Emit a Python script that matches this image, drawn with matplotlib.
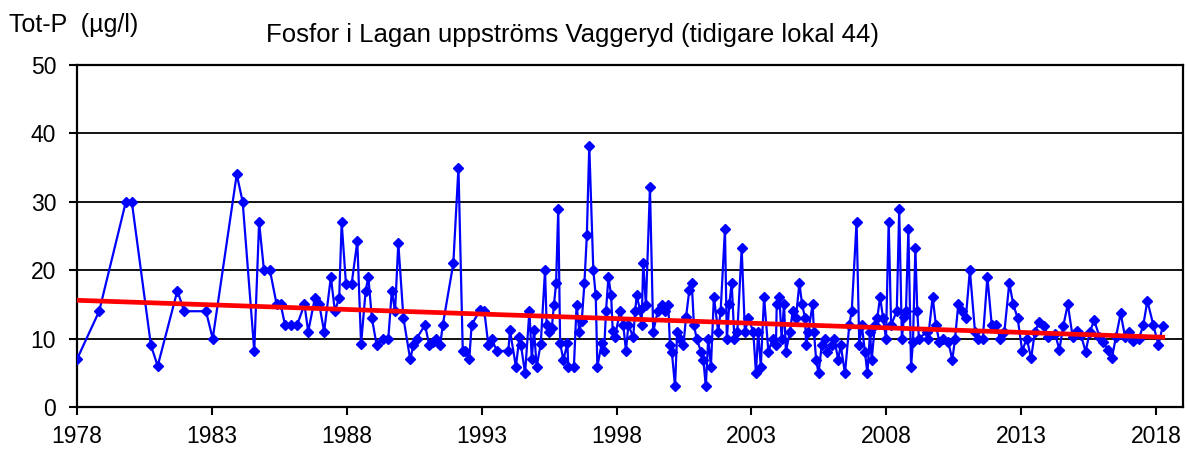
import matplotlib.pyplot as plt

plt.rcParams['font.family'] = ['Liberation Sans', 'DejaVu Sans']

# provtagningar (decimalår) och Tot-P i µg/l
years = [
    1978.00, 1978.82, 1979.81, 1980.03, 1980.74, 1980.99, 1981.72, 1981.97, 1982.78, 1983.03,
    1983.92, 1984.14, 1984.57, 1984.75, 1984.93, 1985.15, 1985.40, 1985.55, 1985.71, 1985.92,
    1986.16, 1986.43, 1986.57, 1986.82, 1986.98, 1987.16, 1987.41, 1987.56, 1987.72, 1987.81,
    1987.97, 1988.18, 1988.39, 1988.53, 1988.70, 1988.80, 1988.93, 1989.11, 1989.33, 1989.54,
    1989.67, 1989.79, 1989.91, 1990.10, 1990.35, 1990.47, 1990.59, 1990.90, 1991.06, 1991.21,
    1991.31, 1991.46, 1991.56, 1991.95, 1992.14, 1992.30, 1992.40, 1992.54, 1992.63, 1992.94,
    1993.10, 1993.25, 1993.37, 1993.56, 1993.99, 1994.05, 1994.27, 1994.40, 1994.46, 1994.61,
    1994.77, 1994.86, 1994.94, 1995.04, 1995.19, 1995.35, 1995.41, 1995.51, 1995.60, 1995.68,
    1995.76, 1995.84, 1995.91, 1996.03, 1996.18, 1996.21, 1996.42, 1996.52, 1996.62, 1996.71,
    1996.81, 1996.90, 1996.99, 1997.14, 1997.23, 1997.29, 1997.45, 1997.54, 1997.61, 1997.70,
    1997.80, 1997.86, 1997.94, 1998.13, 1998.25, 1998.35, 1998.44, 1998.62, 1998.69, 1998.75,
    1998.87, 1998.93, 1998.99, 1999.09, 1999.24, 1999.36, 1999.53, 1999.68, 1999.80, 1999.92,
    1999.98, 2000.05, 2000.17, 2000.25, 2000.35, 2000.48, 2000.58, 2000.70, 2000.79, 2000.87,
    2000.97, 2001.13, 2001.22, 2001.31, 2001.40, 2001.50, 2001.61, 2001.77, 2001.86, 2002.02,
    2002.09, 2002.18, 2002.27, 2002.37, 2002.48, 2002.64, 2002.76, 2002.89, 2003.07, 2003.17,
    2003.25, 2003.35, 2003.47, 2003.63, 2003.79, 2003.91, 2003.94, 2004.04, 2004.12, 2004.21,
    2004.28, 2004.43, 2004.53, 2004.65, 2004.78, 2004.88, 2004.99, 2005.03, 2005.11, 2005.27,
    2005.32, 2005.40, 2005.49, 2005.61, 2005.73, 2005.81, 2005.98, 2006.07, 2006.22, 2006.31,
    2006.47, 2006.63, 2006.72, 2006.90, 2007.00, 2007.09, 2007.21, 2007.30, 2007.40, 2007.46,
    2007.58, 2007.67, 2007.77, 2007.88, 2007.99, 2008.09, 2008.18, 2008.39, 2008.48, 2008.58,
    2008.66, 2008.73, 2008.82, 2008.92, 2008.99, 2009.08, 2009.15, 2009.21, 2009.50, 2009.55,
    2009.72, 2009.84, 2009.97, 2010.12, 2010.30, 2010.45, 2010.55, 2010.67, 2010.80, 2010.95,
    2011.10, 2011.29, 2011.41, 2011.58, 2011.75, 2011.91, 2012.07, 2012.22, 2012.38, 2012.56,
    2012.71, 2012.87, 2013.04, 2013.21, 2013.37, 2013.51, 2013.67, 2013.85, 2014.01, 2014.26,
    2014.42, 2014.56, 2014.73, 2014.91, 2015.08, 2015.22, 2015.39, 2015.55, 2015.71, 2015.90,
    2016.05, 2016.21, 2016.36, 2016.52, 2016.69, 2016.85, 2017.01, 2017.16, 2017.37, 2017.53,
    2017.68, 2017.90, 2018.09, 2018.25,
]
tot_p = [
    7, 14, 30, 30, 9, 6, 17, 14, 14, 10,
    34, 30, 8.2, 27, 20, 20, 15, 15, 12, 12,
    12, 15, 11, 16, 15, 11, 19, 14, 16, 27,
    18, 18, 24.2, 9.2, 17, 19, 13, 9, 10, 10,
    17, 14, 24, 13, 7, 9, 10, 12, 9, 9.5,
    10, 9, 12, 21, 35, 8.2, 8.2, 7, 12, 14.2,
    14, 9, 10, 8.2, 8.2, 11.2, 5.9, 10.2, 9, 4.9,
    14, 7, 11.3, 5.9, 9.2, 20, 12, 11, 11.5, 14.9,
    18.1, 29, 9.3, 6.9, 9.3, 5.9, 5.9, 14.9, 11, 12.5,
    18.1, 25.1, 38.2, 20, 16.3, 5.9, 9.3, 8.2, 14, 19,
    16.3, 11.1, 10.2, 14, 12, 8.2, 12, 10.2, 14, 16.3,
    14.2, 12, 21, 14.9, 32.1, 11, 14, 14.9, 14, 14.9,
    9.1, 8.1, 3, 11, 10, 9.1, 13.2, 17.1, 18.1, 12,
    10, 8.1, 6.9, 3, 10, 5.9, 16.1, 11, 14, 26,
    10, 15, 18.1, 10, 11, 23.2, 11, 13, 11, 4.9,
    11, 5.9, 16.1, 8.1, 10, 9.1, 15, 16.1, 10, 15,
    8.1, 11, 14, 13, 18.1, 15, 13, 9.1, 11, 15,
    11, 6.9, 4.9, 9.1, 10, 8.1, 9.1, 10, 6.9, 9.1,
    4.9, 12, 14, 27.1, 9.1, 12, 8.1, 4.9, 11, 6.9,
    12, 13, 16.1, 13, 10, 27.1, 12, 14, 28.9, 10,
    13.2, 14, 26, 5.9, 9.5, 23.2, 14, 10, 11, 10,
    16.1, 12, 9.5, 10, 9.5, 6.9, 10, 15, 14, 13,
    20, 11, 10, 10, 19, 12, 12, 10, 11, 18.1,
    15, 13, 8.2, 10, 7.1, 11, 12.4, 11.8, 10.3, 10.6,
    8.4, 11.8, 15, 10.3, 11.1, 10.5, 8.1, 11, 12.7, 10.3,
    9.5, 8.4, 7.1, 10.3, 13.7, 10.3, 11, 9.7, 10, 12,
    15.5, 12, 9.1, 11.8,
]

# trendlinje
trend_years = [1978.0, 2018.25]
trend_values = [15.6, 10.2]

year_ticks = [1978, 1983, 1988, 1993, 1998, 2003, 2008, 2013, 2018]
value_ticks = [0, 10, 20, 30, 40, 50]

fig = plt.figure(figsize=(11.87, 4.51), dpi=100)
ax = fig.add_axes([0.0649, 0.0976, 0.9317, 0.7583])

ax.plot(years, tot_p, color='#0000ff', linewidth=1.6, marker='D', markersize=4.6,
        markerfacecolor='#0000ff', markeredgecolor='#0000ff', zorder=3)
ax.plot(trend_years, trend_values, color='#ff0000', linewidth=3.4, zorder=4)

ax.set_xlim(1978, 2019)
ax.set_ylim(0, 50)
ax.set_xticks(year_ticks)
ax.set_yticks(value_ticks)
ax.tick_params(axis='both', labelsize=16.5, color='black', width=1.5, length=6, direction='out')
ax.tick_params(axis='x', pad=7)
ax.tick_params(axis='y', pad=9)
ax.grid(axis='y', color='black', linewidth=1.3)
ax.set_axisbelow(True)
for s in ax.spines.values():
    s.set_linewidth(1.6)
    s.set_color('black')

fig.text(0.008, 0.945, 'Tot-P  (µg/l)', fontsize=18, ha='left', va='center')
fig.text(0.482, 0.922, 'Fosfor i Lagan uppströms Vaggeryd (tidigare lokal 44)',
         fontsize=18.5, ha='center', va='center')

fig.savefig('out.png', dpi=100)
